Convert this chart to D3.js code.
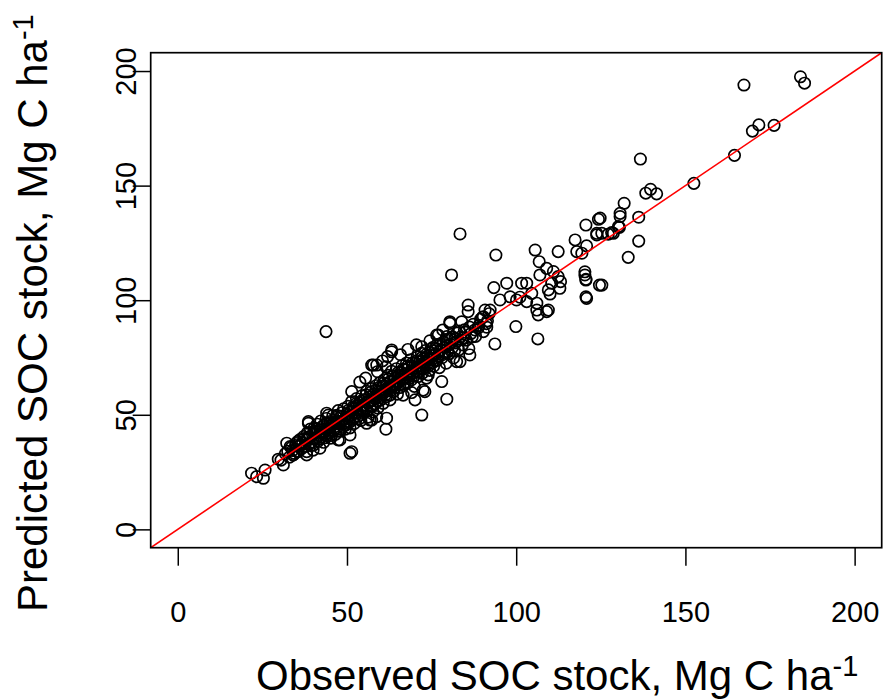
<!DOCTYPE html>
<html>
<head>
<meta charset="utf-8">
<script src="https://cdn.jsdelivr.net/npm/d3@7"></script>
<style>
  body { margin: 0; background: #fff; }
  svg { font-family: "Liberation Sans", Arial, sans-serif; }
</style>
</head>
<body>
<div id="chart"></div>
<script>
var xTicks = [0, 50, 100, 150, 200];
var yTicks = [0, 50, 100, 150, 200];
var xLabel = "Observed SOC stock, Mg C ha";
var yLabel = "Predicted SOC stock, Mg C ha";

// observed / predicted pairs
var coreObs = [30.5,31.8,32.5,33.0,33.6,34.4,35.0,35.2,35.8,36.1,36.5,36.9,37.2,37.6,38.0,38.3,38.7,39.0,39.2,39.5,39.8,
  40.1,40.3,40.6,40.9,41.2,41.4,41.7,42.0,42.3,42.5,42.8,43.1,43.3,43.6,43.9,44.1,44.4,44.7,45.0,45.2,45.5,45.8,46.0,46.3,46.6,46.8,47.1,47.4,47.7,48.0,48.2,48.5,48.8,49.0,49.3,49.6,49.9,
  50.1,50.3,50.6,50.9,51.1,51.4,51.7,52.0,52.2,52.5,52.8,53.0,53.3,53.6,53.9,54.1,54.4,54.7,55.0,55.2,55.5,55.8,56.1,56.3,56.6,56.9,57.2,57.4,57.7,58.0,58.3,58.6,58.8,59.1,59.4,59.7,59.9,
  60.2,60.5,60.7,61.0,61.3,61.6,61.8,62.1,62.4,62.7,63.0,63.2,63.5,63.8,64.1,64.3,64.6,64.9,65.2,65.4,65.7,66.0,66.3,66.5,66.8,67.1,67.4,67.6,67.9,68.2,68.5,68.8,69.0,69.3,69.6,69.9,
  70.2,70.5,70.8,71.1,71.4,71.7,72.0,72.3,72.6,72.9,73.2,73.5,73.8,74.1,74.4,74.7,75.0,75.3,75.6,75.9,76.2,76.6,77.0,77.3,77.7,78.1,78.5,78.9,79.3,79.7,
  80.2,80.6,81.1,81.5,82.0,82.5,83.0,83.5,84.1,84.7,85.3,86.0,86.6,87.3,88.0,88.7,89.5,90.3,91.2,92.0];
var corePred = [30.2,33.0,34.1,31.5,35.8,33.2,37.5,34.0,36.4,39.2,35.1,37.8,40.5,36.2,38.9,42.1,37.0,40.3,43.8,38.1,41.5,
  36.8,44.2,39.7,42.6,45.9,38.4,41.0,43.5,47.3,40.2,44.8,38.0,42.3,46.1,48.4,40.9,44.0,42.2,47.0,39.8,45.3,49.6,43.1,46.7,41.5,48.9,44.4,51.8,46.0,42.8,49.3,47.2,44.9,52.6,48.1,45.5,50.4,
  47.0,53.7,49.2,44.3,51.5,55.8,48.0,52.9,46.2,50.6,57.1,53.8,49.4,55.2,51.9,47.5,58.3,54.0,50.8,56.6,52.7,60.2,55.1,49.0,57.9,53.6,61.4,56.2,51.3,59.0,54.8,62.7,57.5,52.9,60.3,64.0,56.4,
  59.1,62.5,55.0,65.3,60.0,57.8,63.4,67.2,61.5,58.6,64.8,69.0,62.3,60.1,66.0,63.2,70.1,59.0,67.3,64.5,61.9,68.6,71.5,65.4,62.8,69.7,66.3,72.6,63.9,70.4,67.5,74.0,65.2,71.3,68.4,62.4,
  72.4,69.3,75.2,66.7,73.1,70.5,76.8,68.2,74.3,71.6,78.0,66.0,75.5,72.8,69.4,77.1,74.0,79.3,71.2,76.4,73.5,80.6,75.8,70.6,78.3,74.9,81.7,77.0,72.5,80.1,
  76.6,83.0,79.2,74.8,81.4,85.6,78.3,83.9,80.5,87.1,82.6,78.9,85.4,89.5,84.2,87.8,91.7,86.3,89.8,94.1];

// second pass over the dense middle of the cloud
var denseObs = [38.4,39.3,40.5,41.0,41.9,42.6,43.0,43.7,44.2,44.9,45.4,45.9,46.4,47.0,47.5,48.1,48.6,49.1,49.5,50.0,50.4,50.8,51.3,51.8,52.3,52.7,53.2,53.7,54.2,54.6,
  55.1,55.6,56.0,56.5,57.0,57.5,58.1,58.5,59.0,59.5,60.0,60.4,60.9,61.4,61.9,62.3,62.8,63.3,63.7,64.2,64.7,65.1,65.6,66.1,66.6,67.0,67.5,68.0,68.4,68.9,
  69.4,69.8,70.3,70.7,71.2,71.6,72.1,72.5,73.0,73.4,73.9,74.3,74.8,75.2,75.7,76.1,76.7,77.2,77.6,78.2,78.7,79.2,79.8,80.5,81.2,81.8,82.7,83.2,84.4,85.0,
  86.2,87.0,89.0,90.0,91.5,35.4,36.3,37.4,34.8,33.9];
var densePred = [40.0,36.5,41.8,44.0,39.5,42.0,45.3,40.0,46.5,43.3,41.0,46.0,44.8,49.8,43.0,47.0,50.9,46.3,43.7,48.6,51.9,46.8,50.0,53.5,49.0,54.9,51.0,48.3,56.0,52.4,
  54.3,58.7,51.8,55.9,59.8,54.0,57.0,60.9,55.8,62.0,57.5,60.6,63.8,58.7,61.2,65.7,60.5,63.0,67.0,61.8,64.4,68.4,63.0,66.2,69.9,64.0,67.8,71.4,65.8,69.0,
  72.7,66.8,70.3,73.6,68.5,71.4,74.9,70.1,73.0,76.3,71.0,74.6,78.6,72.6,75.8,79.0,74.0,77.5,81.0,76.2,79.4,82.8,77.5,80.8,84.0,78.0,82.3,86.5,83.6,86.0,
  88.3,84.0,89.0,92.5,91.0,38.3,36.9,39.6,36.6,34.4];

var upperEdgeObs = [57.3,58.8,63.2,63.2,57.8,60.5,62.0,55.5,53.8,59.0,61.5,65.8,68.0,70.5,72.1,74.5,76.5,78.3,80.4,80.4,77.0,79.5,81.9,83.9,85.8,85.8,90.3,90.8,92.3,91.3,87.8,44.5,38.6,51.4,32.2];
var upperEdgePred = [71.7,71.7,77.5,78.3,71.7,73.5,75.4,66.0,64.3,68.8,70.9,76.2,78.5,80.5,79.7,82.3,84.8,87.0,89.9,90.6,84.8,84.1,83.4,90.6,95.0,97.9,92.8,95.7,95.7,88.2,87.0,49.9,47.0,60.1,37.6];

var lowerObs = [50.9,61.5,72.1,79.5,78.0,70.1,73.0,69.1,74.0,82.4,61.7,56.8,47.4,62.7,66.6,72.5,86.3,83.4,93.7,99.9,106.4,
  51.4,57.3,58.8,55.8,50.9,47.9,42.0,38.1,34.1];
var lowerPred = [33.2,43.7,49.9,56.8,64.5,56.5,60.1,59.7,67.4,73.2,48.5,47.7,39.0,56.5,58.6,60.8,76.1,73.2,80.9,88.5,83.1,
  33.9,47.7,49.2,46.3,41.2,39.0,35.4,33.9,32.5];

var lowObs = [21.8,23.3,25.3,25.8,29.7,31.2,33.2,34.1,38.6,38.1,35.6,40.0,43.5,44.0,43.8];
var lowPred = [24.5,23.0,22.3,25.9,30.6,28.1,36.1,32.5,46.3,32.5,33.9,34.6,41.2,50.7,86.3];

var midObs = [83.4,94.0,80.9,93.4,105.6,112.4,106.8,109.0,111.0,107.0,112.4,113.1,110.5,112.9,109.5,110.0,104.6,101.6,103.1,106.1,106.5,109.0,109.5,
  120.8,120.3,120.6,117.4,117.9,120.6,123.8,124.6,97.2,98.2,95.2,100.1,101.1,106.1,103.1];
var midPred = [128.9,119.7,111.0,105.5,121.9,121.2,116.8,113.9,112.5,111.0,110.3,108.1,107.4,105.2,104.5,102.7,103.0,107.4,107.4,98.7,93.6,95.0,95.7,
  100.8,111.0,108.8,126.3,121.2,132.8,129.2,106.6,107.4,101.5,100.1,100.1,101.3,95.7,99.4];

var highObs = [184.0,185.2,167.3,169.8,171.7,176.2,164.5,152.5,136.7,138.3,139.7,141.5,136.2,136.2,131.9,130.7,130.7,130.2,128.2,125.3,124.8,124.3,
  123.8,127.2,128.7,130.5,120.8,119.4,133.1,120.3,120.6,125.3,120.6];
var highPred = [197.5,194.7,193.9,173.8,176.5,176.3,163.2,151.0,161.6,146.7,148.4,146.4,136.2,125.8,142.3,137.9,136.5,132.1,129.5,129.2,135.8,135.3,
  128.5,128.8,129.2,131.8,123.7,120.5,118.7,112.4,109.1,106.6,101.5];

var observed = [].concat(coreObs, denseObs, upperEdgeObs, lowerObs, lowObs, midObs, highObs);
var predicted = [].concat(corePred, densePred, upperEdgePred, lowerPred, lowPred, midPred, highPred);
var points = observed.map(function(d, i) { return {obs: d, pred: predicted[i]}; });

var canvasWidth = 885, canvasHeight = 699;
var boxLeft = 150.7, boxRight = 881.7, boxTop = 52.7, boxBottom = 547.7;

var svg = d3.select("#chart").append("svg")
    .attr("width", canvasWidth)
    .attr("height", canvasHeight);

// R-style axes: limits 0..200 extended by 4%
var xScale = d3.scaleLinear().domain([-8, 208]).range([boxLeft, boxRight]);
var yScale = d3.scaleLinear().domain([-8, 208]).range([boxBottom, boxTop]);

svg.append("clipPath").attr("id", "plotClip")
  .append("rect")
    .attr("x", boxLeft).attr("y", boxTop)
    .attr("width", boxRight - boxLeft).attr("height", boxBottom - boxTop);

svg.append("g")
  .selectAll("circle")
  .data(points)
  .enter().append("circle")
    .attr("cx", function(d) { return xScale(d.obs); })
    .attr("cy", function(d) { return yScale(d.pred); })
    .attr("r", 5.7)
    .attr("fill", "none")
    .attr("stroke", "#000")
    .attr("stroke-width", 1.7);

// 1:1 line, on top of the points
svg.append("line")
    .attr("clip-path", "url(#plotClip)")
    .attr("x1", xScale(-8)).attr("y1", yScale(-8))
    .attr("x2", xScale(208)).attr("y2", yScale(208))
    .attr("stroke", "#ff0000")
    .attr("stroke-width", 1.6);

// box
svg.append("rect")
    .attr("x", boxLeft).attr("y", boxTop)
    .attr("width", boxRight - boxLeft).attr("height", boxBottom - boxTop)
    .attr("fill", "none")
    .attr("stroke", "#000")
    .attr("stroke-width", 1.7);

// x axis
var xAxis = svg.append("g")
    .attr("transform", "translate(0," + boxBottom + ")")
    .call(d3.axisBottom(xScale).tickValues(xTicks).tickSize(18).tickPadding(0).tickFormat(d3.format("d")));
xAxis.select(".domain").remove();
xAxis.selectAll("line").attr("stroke-width", 1.5);
xAxis.selectAll("text")
    .attr("y", 74)
    .attr("dy", null)
    .attr("font-size", "29px")
    .attr("font-family", "Liberation Sans, Arial, sans-serif")
    .attr("fill", "#000");

// y axis
var yAxis = svg.append("g")
    .attr("transform", "translate(" + boxLeft + ",0)")
    .call(d3.axisLeft(yScale).tickValues(yTicks).tickSize(18).tickFormat(d3.format("d")));
yAxis.select(".domain").remove();
yAxis.selectAll("line").attr("stroke-width", 1.5);
yAxis.selectAll("text")
    .attr("x", null).attr("dy", null)
    .attr("transform", "translate(-15,0) rotate(-90)")
    .attr("text-anchor", "middle")
    .attr("font-size", "29px")
    .attr("font-family", "Liberation Sans, Arial, sans-serif")
    .attr("fill", "#000");

// x title
var xt = svg.append("text")
    .attr("x", 256)
    .attr("y", 690)
    .attr("font-size", "42px")
    .attr("fill", "#000");
xt.append("tspan").text(xLabel);
xt.append("tspan").attr("dy", -14).attr("font-size", "29px").text("-1");

// y title
var yt = svg.append("text")
    .attr("transform", "translate(47,612) rotate(-90)")
    .attr("font-size", "42px")
    .attr("fill", "#000");
yt.append("tspan").text(yLabel);
yt.append("tspan").attr("dy", -14).attr("font-size", "29px").text("-1");
</script>
</body>
</html>
